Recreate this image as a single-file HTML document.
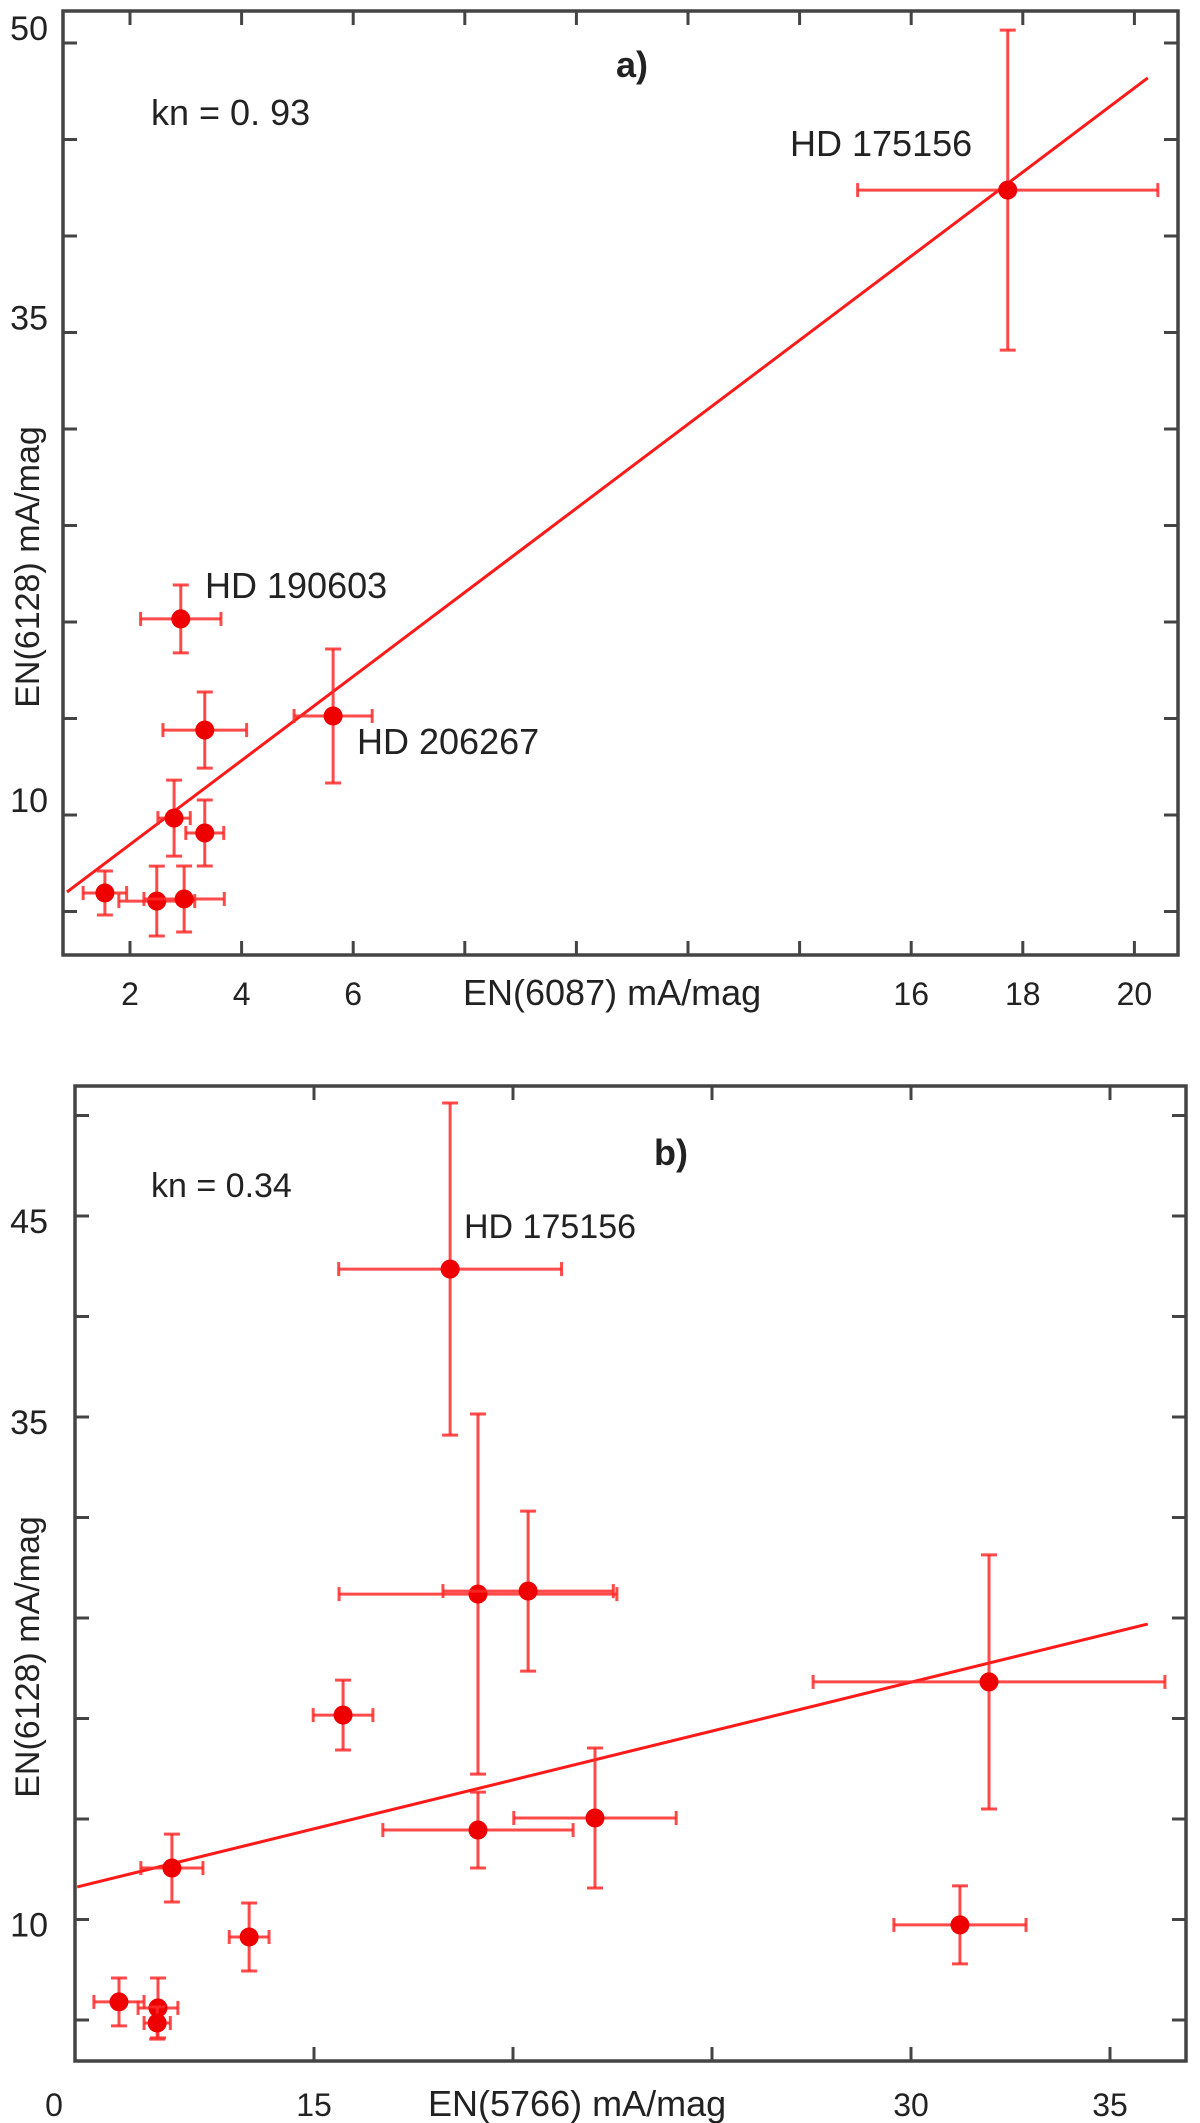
<!DOCTYPE html>
<html><head><meta charset="utf-8"><style>
html,body{margin:0;padding:0;background:#fff;}
svg{display:block;}
text{font-family:"Liberation Sans",sans-serif;fill:#222;}
</style></head><body>
<svg id="fig" width="1200" height="2123" viewBox="0 0 1200 2123" xmlns="http://www.w3.org/2000/svg">
<rect x="0" y="0" width="1200" height="2123" fill="#fff"/>
<g id="chartA"></g>
<g id="chartB"></g>
</svg>
<script>
// ---- Chart a data ----
const aX = [1.55, 2.48, 2.97, 2.79, 3.34, 3.34, 2.91, 5.64, 17.73];
const aXErr = [0.39, 0.68, 0.72, 0.29, 0.34, 0.75, 0.72, 0.70, 2.69];
const aY = [5.96, 5.54, 5.65, 9.84, 9.07, 14.40, 20.16, 15.13, 42.38];
const aYErr = [1.14, 1.81, 1.71, 1.97, 1.71, 1.97, 1.76, 3.47, 8.29];
const aFitX = [0.87, 20.24];
const aFitY = [6.01, 48.19];
const aXTicks = [2, 4, 6, 8, 10, 12, 14, 16, 18, 20];
const aXTickLabels = ["2", "4", "6", "", "", "", "", "16", "18", "20"];
const aYTicks = [5, 10, 15, 20, 25, 30, 35, 40, 45, 50];
const aYTickLabels = ["", "10", "", "", "", "", "35", "", "", "50"];
// ---- Chart b data ----
const bX = [18.42, 19.12, 20.38, 31.96, 15.73, 19.12, 22.06, 11.43, 13.37, 31.23, 10.10, 11.08, 11.06];
const bXErr = [2.80, 3.49, 2.14, 4.42, 0.75, 2.39, 2.04, 0.78, 0.50, 1.66, 0.63, 0.50, 0.33];
const bY = [42.36, 26.19, 26.34, 21.82, 20.17, 14.45, 15.05, 12.56, 9.13, 9.73, 5.90, 5.60, 4.85];
const bYErr = [8.26, 8.96, 3.98, 6.32, 1.74, 1.89, 3.48, 1.69, 1.69, 1.94, 1.19, 1.49, 0.80];
const bFitX = [9.05, 35.95];
const bFitY = [11.62, 24.70];
const bXTicks = [15, 20, 25, 30, 35];
const bXTickLabels = ["15", "", "", "30", "35"];
const bYTicks = [5, 10, 15, 20, 25, 30, 35, 40, 45, 50];
const bYTickLabels = ["", "10", "", "", "", "", "35", "", "45", ""];

const NS = "http://www.w3.org/2000/svg";
function mk(parent, tag, attrs, txt) {
  const el = document.createElementNS(NS, tag);
  for (const k in attrs) el.setAttribute(k, attrs[k]);
  if (txt !== undefined) el.textContent = txt;
  parent.appendChild(el);
  return el;
}

function drawChart(g, cfg, xs, xe, ys, ye, fx, fy, xt, xtl, yt, ytl) {
  const X = cfg.xScale, Y = cfg.yScale;
  const f = cfg.frame;
  const fr = mk(g, "rect", {x: f.l, y: f.t, width: f.r - f.l, height: f.b - f.t, fill: "none", stroke: "#444", "stroke-width": 3.5});
  
  
  xt.forEach((v, i) => {
    const px = X(v);
    const t1 = mk(g, "line", {x1: px, x2: px, y1: f.b, y2: f.b - 14, stroke: "#444", "stroke-width": 3});
    
    
    const t2 = mk(g, "line", {x1: px, x2: px, y1: f.t, y2: f.t + 14, stroke: "#444", "stroke-width": 3});
    
    
    if (xtl[i]) {
      const tl = mk(g, "text", {x: px, y: cfg.xLabelY, "font-size": 32, "text-anchor": "middle"}, xtl[i]);
      
      
    }
  });
  yt.forEach((v, i) => {
    const py = Y(v);
    const t1 = mk(g, "line", {x1: f.l, x2: f.l + 14, y1: py, y2: py, stroke: "#444", "stroke-width": 3});
    
    
    const t2 = mk(g, "line", {x1: f.r, x2: f.r - 14, y1: py, y2: py, stroke: "#444", "stroke-width": 3});
    
    
    if (ytl[i]) {
      const tl = mk(g, "text", {x: 48, y: py + cfg.yLabelOff + 12, "font-size": 34, "text-anchor": "end"}, ytl[i]);
      
      
    }
  });
  const fl = mk(g, "line", {x1: X(fx[0]), y1: Y(fy[0]), x2: X(fx[1]), y2: Y(fy[1]), stroke: "#ff1a1a", "stroke-width": 3});
  
  
  xs.forEach((v, i) => {
    const px = X(v), py = Y(ys[i]);
    const x0 = X(v - xe[i]), x1 = X(v + xe[i]);
    const y0 = Y(ys[i] - ye[i]), y1 = Y(ys[i] + ye[i]);
    const eg = mk(g, "g", {stroke: "#ff2a2a", "stroke-width": 3, "stroke-opacity": 0.85});
    
    
    mk(eg, "line", {x1: x0, x2: x1, y1: py, y2: py});
    mk(eg, "line", {x1: x0, x2: x0, y1: py - 7, y2: py + 7});
    mk(eg, "line", {x1: x1, x2: x1, y1: py - 7, y2: py + 7});
    mk(eg, "line", {x1: px, x2: px, y1: y0, y2: y1});
    mk(eg, "line", {x1: px - 8, x2: px + 8, y1: y0, y2: y0});
    mk(eg, "line", {x1: px - 8, x2: px + 8, y1: y1, y2: y1});
    const pt = mk(g, "circle", {cx: px, cy: py, r: 9.5, fill: "#ee0000"});
    
    
  });
}

const aFrame = {l: 63, r: 1178, t: 11, b: 955};
const aXs = v => 130 + (v - 2) * 55.8;
const aYs = v => 815 - (v - 10) * 19.3;
drawChart(document.getElementById("chartA"), {xScale: aXs, yScale: aYs, frame: aFrame, xLabelY: 1005, yLabelOff: -15},
  aX, aXErr, aY, aYErr, aFitX, aFitY, aXTicks, aXTickLabels, aYTicks, aYTickLabels);

const bFrame = {l: 75, r: 1186, t: 1086, b: 2061};
const bXs = v => 314 + (v - 15) * 39.8;
const bYs = v => 1417 - (v - 35) * 20.1;
drawChart(document.getElementById("chartB"), {xScale: bXs, yScale: bYs, frame: bFrame, xLabelY: 2116, yLabelOff: 5},
  bX, bXErr, bY, bYErr, bFitX, bFitY, bXTicks, bXTickLabels, bYTicks, bYTickLabels);

function lab(parentId, name, x, y, size, txt, extra) {
  const g = document.getElementById(parentId);
  const a = Object.assign({x: x, y: y, "font-size": size}, extra || {});
  const t = mk(g, "text", a, txt);
  
  
  return t;
}
lab("chartA", "x-axis-title", 463, 1005, 36, "EN(6087)  mA/mag");
lab("chartA", "kn-annotation", 151, 125, 36, "kn = 0. 93");
lab("chartA", "panel-label-a", 616, 77, 36, "a)", {"font-weight": "bold"});
lab("chartA", "label-hd175156", 790, 156, 36, "HD 175156");
lab("chartA", "label-hd190603", 205, 598, 36, "HD 190603");
lab("chartA", "label-hd206267", 357, 754, 36, "HD 206267");
lab("chartA", "y-axis-title", 0, 0, 34, "EN(6128) mA/mag", {"text-anchor": "middle", transform: "translate(39,567) rotate(-90)"});

lab("chartB", "x-zero-label", 54, 2116, 32, "0", {"text-anchor": "middle"});
lab("chartB", "x-axis-title", 428, 2116, 36, "EN(5766)  mA/mag");
lab("chartB", "kn-annotation", 151, 1197, 34, "kn = 0.34");
lab("chartB", "panel-label-b", 654, 1165, 36, "b)", {"font-weight": "bold"});
lab("chartB", "label-hd175156", 464, 1238, 34, "HD 175156");
lab("chartB", "y-axis-title", 0, 0, 34, "EN(6128) mA/mag", {"text-anchor": "middle", transform: "translate(39,1657) rotate(-90)"});
</script>
</body></html>
